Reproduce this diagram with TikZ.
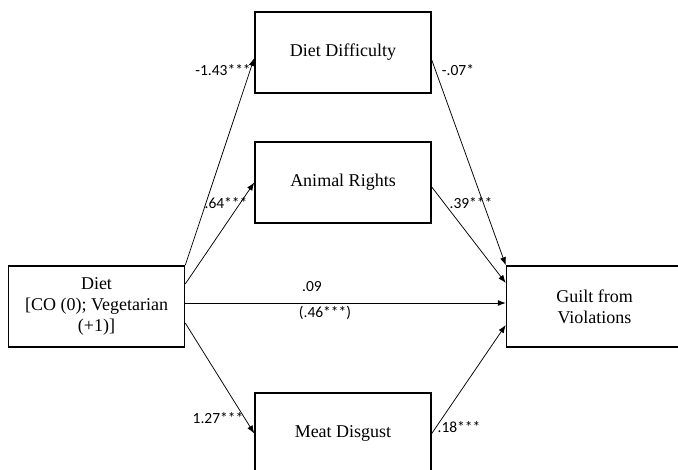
\documentclass[tikz,border=0pt]{standalone}
\usepackage{fontspec}
\setmainfont{Liberation Serif}
\newfontfamily\coeffont{Carlito}
\usetikzlibrary{arrows.meta}

\tikzset{every picture/.style={line width=0.75pt}}
\tikzset{
  varbox/.style={draw, line width=1.5pt, minimum width=176pt, minimum height=81pt, inner sep=0pt, align=center, font=\fontsize{18}{21}\selectfont},
  path/.style={-{Latex[length=8pt,width=6pt]}},
  coef/.style={inner sep=0.75pt, font=\coeffont\fontsize{15.5}{18}\selectfont}
}

\begin{document}
\begin{tikzpicture}[x=1pt,y=1pt,yscale=-1,xscale=1]
		\useasboundingbox (0,0) rectangle (678,470);

		%Variable boxes
		\node [varbox] (diet) at (96.5,306.5) {Diet\\{[}CO (0); Vegetarian\\(+1)]};
		\node [varbox] (diff) at (343,52.5) {Diet Difficulty};
		\node [varbox] (rights) at (343,182.5) {Animal Rights};
		\node [varbox] (disgust) at (343,433.5) {Meat Disgust};
		\node [varbox] (guilt) at (594.5,306.5) {Guilt from\\Violations};

		%Paths from diet (yshift is flipped by yscale=-1)
		\draw [path] (diet.north east) -- ([yshift=5.5pt]diff.west);
		\draw [path] ([yshift=-22.5pt]diet.east) -- (rights.west);
		\draw [path] ([yshift=-3.5pt]diet.east) -- ([yshift=-3.5pt]guilt.west);
		\draw [path] ([yshift=16.5pt]diet.east) -- (disgust.west);
		%Paths to guilt
		\draw [path] ([yshift=7.5pt]diff.east) -- (guilt.north west);
		\draw [path] ([yshift=4.5pt]rights.east) -- ([yshift=-23.5pt]guilt.west);
		\draw [path] (disgust.east) -- ([yshift=18.5pt]guilt.west);

		% Text Node
		\node [coef] (cdiff) at (223,70) {-1.43***};
		% Text Node
		\node [coef] (crights) at (226,203) {.64***};
		% Text Node
		\node [coef] (cdirect) at (312,287) {.09};
		% Text Node
		\node [coef] (ctotal) at (325,313) {(.46***)};
		% Text Node
		\node [coef] (cdisgust) at (218,418) {1.27***};
		% Text Node
		\node [coef] (gdiff) at (458,70) {-.07*};
		% Text Node
		\node [coef] (grights) at (471,203) {.39***};
		% Text Node
		\node [coef] (gdisgust) at (459,427) {.18***};

	\end{tikzpicture}
\end{document}
